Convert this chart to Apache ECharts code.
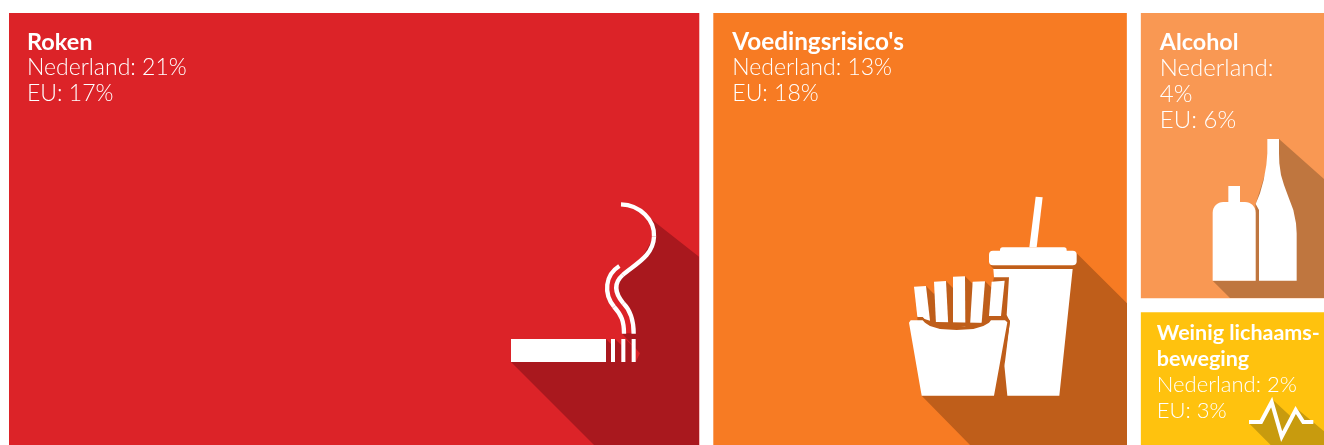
<!DOCTYPE html>
<html><head><meta charset="utf-8">
<style>html,body{margin:0;padding:0;background:#fff}#c{width:1324px;height:445px}</style>
<script src="https://cdn.jsdelivr.net/npm/echarts@6/dist/echarts.min.js"></script>
</head><body><div id="c"></div>
<script>
// Data
const names = ['Roken', "Voedingsrisico's", 'Alcohol', 'Weinig lichaamsbeweging'];
const titleLines = [['Roken'], ["Voedingsrisico's"], ['Alcohol'], ['Weinig lichaams-', 'beweging']];
const nederland = [21, 13, 4, 2];
const eu = [17, 18, 6, 3];
// unrounded Dutch share, estimated from tile areas
const shareEstimate = [20.97, 12.73, 3.94, 1.93];
const colors = ['#DC2328', '#F77B23', '#F99853', '#FFC20E'];
const nlBreak = [false, false, true, false];
const labelPos = [[13, 11], [14, 11], [14, 11], [11, 3]];

const FONT = 'Lato';
const Z = 20;
const seriesData = names.map((n, i) => ({
  name: n,
  value: shareEstimate[i],
  itemStyle: { color: colors[i] },
  label: { position: labelPos[i] },
  idx: i
}));

function icon(x, y, children) {
  children.forEach(c => { c.z = c.z || Z; c.silent = true; });
  return { type: 'group', x: x, y: y, scaleX: 1 / 3, scaleY: 1 / 3, silent: true, children: children };
}
const poly = (points, fill) => ({ type: 'polygon', shape: { points }, style: { fill } });
const W = '#ffffff';
const curve = (x1, y1, cpx1, cpy1, cpx2, cpy2, x2, y2) => ({
  type: 'bezierCurve',
  shape: { x1, y1, cpx1, cpy1, cpx2, cpy2, x2, y2 },
  style: { stroke: W, lineWidth: 13, fill: null }
});

// Roken icon
const SD1 = '#A9181E';
const cig = icon(490, 190, [
  poly([[63,516],[315,768],[627,768],[627,200],[480,85],[495,135],[440,230],[385,270],[385,310],[405,345],[432,385],[432,430],[395,430],[450,490],[437,516]], SD1),
  poly([[348,447],[363,462],[363,516],[348,516]], SD1),
  poly([[375,447],[394,466],[394,516],[375,516]], SD1),
  poly([[406,447],[425,466],[425,516],[406,516]], SD1),
  poly([[63,447],[348,447],[348,516],[63,516]], W),
  poly([[363,447],[375,447],[375,516],[363,516]], W),
  poly([[394,447],[406,447],[406,516],[394,516]], W),
  poly([[425,447],[437,447],[437,516],[425,516]], W),
  curve(393,43, 450,45, 495,90, 492,140),
  curve(492,140, 490,200, 430,225, 398,255),
  curve(398,255, 370,280, 375,310, 400,340),
  curve(400,340, 425,365, 431,395, 431,431),
  curve(388,228, 345,255, 340,310, 372,350),
  curve(372,350, 395,375, 402,395, 402,431)
]);

// Voeding icon
const SD2 = '#BF5E1A';
const fries = icon(890, 190, [
  poly([[95,617],[243,768],[711,768],[711,340],[560,190],[548,226],[300,226],[312,237],[312,617]], SD2),
  poly([[82,385],[108,288],[132,312],[168,273],[189,294],[225,259],[248,281],[285,274],[305,293],[312,262],[357,262],[365,395],[345,515],[355,617],[95,617]], SD2),
  poly([[418,172],[437,20],[458,22],[440,172]], W),
  { type: 'rect', shape: { x: 330, y: 172, width: 200, height: 30, r: 8 }, style: { fill: W } },
  { type: 'rect', shape: { x: 297, y: 182, width: 263, height: 44, r: 12 }, style: { fill: W } },
  poly([[310,237],[548,237],[508,617],[352,617],[342,515],[360,395],[350,375],[357,262],[312,262]], W),
  poly([[72,290],[108,288],[120,392],[82,380]], W),
  poly([[132,275],[168,273],[175,408],[138,402]], W),
  poly([[189,260],[225,259],[226,410],[189,410]], W),
  poly([[248,275],[285,274],[275,398],[240,408]], W),
  poly([[305,275],[344,272],[333,378],[297,378]], W),
  poly([[82,381],[98,381],[112,396],[140,408],[200,412],[262,408],[290,396],[302,380],[348,379],[360,392],[345,515],[322,620],[300,620],[340,400],[100,395]], SD2),
  poly([[62,391],[98,391],[105,398],[120,408],[150,417],[200,420],[250,417],[280,408],[297,398],[303,391],[345,391],[352,397],[312,617],[95,617],[57,398]], W)
]);

// Alcohol icon
const SD3 = '#BF763F';
const bottles = icon(1135, 130, [
  poly([[233,452],[285,504],[567,504],[567,147],[432,27],[432,110],[397,110],[362,222],[362,452]], SD3),
  poly([[362,222],[372,245],[372,452],[362,452]], SD3),
  poly([[280,168],[315,168],[315,218],[280,218]], W),
  { type: 'rect', shape: { x: 233, y: 216, width: 129, height: 236, r: [32,32,0,0] }, style: { fill: W } },
  poly([[397,27],[432,27],[432,70],[433,100],[438,135],[447,165],[460,200],[475,240],[483,280],[485,310],[485,452],[372,452],[372,240],[362,222],[375,190],[386,150],[394,105],[397,70]], W)
]);

// Weinig icon
const SD4 = '#C89B0E';
const pulse = icon(1135, 300, [
  poly([[342,370],[407,435],[567,435],[567,394],[486,326],[470,352],[414,300],[378,366]], SD4),
  { type: 'polyline', shape: { points: [[342,366],[378,366],[410,306],[440,410],[482,330],[505,366],[535,366]] }, style: { stroke: W, lineWidth: 12, fill: null, lineJoin: 'miter' } }
]);

const chart = echarts.init(document.getElementById('c'), null, { renderer: 'canvas' });
chart.setOption({
  animation: false,
  backgroundColor: '#fff',
  tooltip: { show: false },
  graphic: { elements: [cig, fries, bottles, pulse] },
  series: [{
    type: 'treemap',
    left: 9, top: 13, width: 1315, height: 432,
    roam: false, nodeClick: false, silent: true,
    breadcrumb: { show: false },
    levels: [{ itemStyle: { gapWidth: 14, borderWidth: 0 }, upperLabel: { show: false } }],
    itemStyle: { borderWidth: 0, gapWidth: 14 },
    label: {
      show: true, overflow: 'none', color: '#fff', fontFamily: FONT,
      formatter: p => {
        const i = p.data.idx;
        const t = titleLines[i].map(s => '{t' + i + '|' + s + '}').join('\n');
        const v = '{v' + i + '|';
        const nl = nlBreak[i]
          ? v + 'Nederland:}\n' + v + nederland[i] + '%}'
          : v + 'Nederland: ' + nederland[i] + '%}';
        return t + '\n' + nl + '\n' + v + 'EU: ' + eu[i] + '%}';
      },
      rich: {
        t0: { fontFamily: FONT, fontWeight: 700, fontSize: 23.5, lineHeight: 26, color: '#fff' },
        t1: { fontFamily: FONT, fontWeight: 700, fontSize: 24.3, lineHeight: 26, color: '#fff' },
        t2: { fontFamily: FONT, fontWeight: 700, fontSize: 23.3, lineHeight: 26, color: '#fff' },
        t3: { fontFamily: FONT, fontWeight: 700, fontSize: 21.5, lineHeight: 26, color: '#fff' },
        v0: { fontFamily: FONT, fontWeight: 300, fontSize: 23, lineHeight: 26, color: '#fff' },
        v1: { fontFamily: FONT, fontWeight: 300, fontSize: 23, lineHeight: 26, color: '#fff' },
        v2: { fontFamily: FONT, fontWeight: 300, fontSize: 24, lineHeight: 26, color: '#fff' },
        v3: { fontFamily: FONT, fontWeight: 300, fontSize: 22, lineHeight: 26, color: '#fff' }
      }
    },
    data: seriesData
  }]
});
</script></body></html>
